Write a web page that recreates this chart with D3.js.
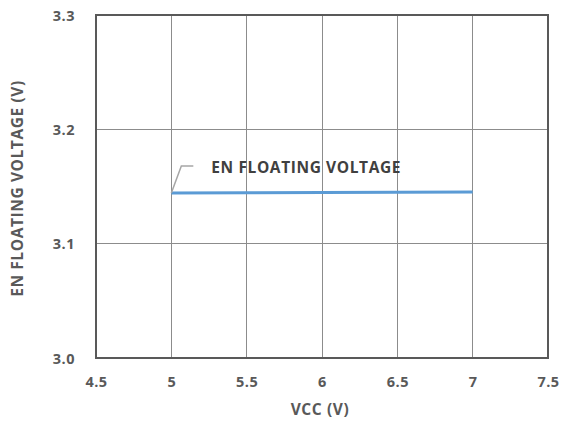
<!DOCTYPE html>
<html><head><meta charset="utf-8">
<script src="https://cdn.jsdelivr.net/npm/d3@7"></script>
<style>body{margin:0;background:#fff}svg{display:block}text{font-family:"Open Sans",sans-serif;font-weight:bold}</style>
</head><body>
<svg id="c" width="567" height="425"></svg>
<script>
const vcc = [5, 5.5, 6, 6.5, 7];
const enVoltage = [3.1443, 3.1445, 3.1448, 3.145, 3.1452];
const xTicks = [4.5, 5, 5.5, 6, 6.5, 7, 7.5];
const yTicks = [3.0, 3.1, 3.2, 3.3];
const seriesLabel = "EN FLOATING VOLTAGE";
const xTitle = "VCC (V)";
const yTitle = "EN FLOATING VOLTAGE (V)";

const svg = d3.select("#c");
const L = 96, R = 548, T = 15, B = 358;
const x = d3.scaleLinear().domain([4.5, 7.5]).range([L, R]);
const y = d3.scaleLinear().domain([3.0, 3.3]).range([B, T]);

// gridlines
svg.append("g").selectAll("line").data(xTicks.slice(1, -1)).join("line")
  .attr("x1", d => x(d)).attr("x2", d => x(d)).attr("y1", T).attr("y2", B)
  .attr("stroke", "#8c8c8c").attr("stroke-width", 1).attr("shape-rendering", "crispEdges");
svg.append("g").selectAll("line").data(yTicks.slice(1, -1)).join("line")
  .attr("y1", d => y(d)).attr("y2", d => y(d)).attr("x1", L).attr("x2", R)
  .attr("stroke", "#8c8c8c").attr("stroke-width", 1).attr("shape-rendering", "crispEdges");
svg.append("rect").attr("x", L).attr("y", T).attr("width", R - L).attr("height", B - T)
  .attr("fill", "none").attr("stroke", "#595959").attr("stroke-width", 1.5).attr("shape-rendering", "crispEdges");

// axes labels
const xAxis = d3.axisBottom(x).tickValues(xTicks).tickSize(0).tickPadding(0)
  .tickFormat(d => d3.format("~g")(d));
const gx = svg.append("g").attr("transform", `translate(0,${B})`).call(xAxis);
gx.select(".domain").remove();
gx.selectAll("text").attr("dy", null).attr("y", 29).attr("fill", "#595959")
  .attr("font-size", 14.5).attr("letter-spacing", 0.5);

const yAxis = d3.axisLeft(y).tickValues(yTicks).tickSize(0).tickPadding(0)
  .tickFormat(d3.format(".1f"));
const gy = svg.append("g").attr("transform", `translate(${L},0)`).call(yAxis);
gy.select(".domain").remove();
gy.selectAll("text").attr("x", -21).attr("dy", "0.35em").attr("fill", "#595959")
  .attr("font-size", 14.5).attr("letter-spacing", 0.5);

// series line
svg.append("path").datum(vcc.map((v, i) => [v, enVoltage[i]]))
  .attr("d", d3.line().x(d => x(d[0])).y(d => y(d[1])))
  .attr("fill", "none").attr("stroke", "#5b9bd5").attr("stroke-width", 3);

// leader and label
const p0 = [x(vcc[0]), y(enVoltage[0])];
svg.append("path")
  .attr("d", `M${p0[0]},${p0[1]} L${p0[0] + 10},${p0[1] - 27} L${p0[0] + 22},${p0[1] - 27}`)
  .attr("fill", "none").attr("stroke", "#a6a6a6").attr("stroke-width", 1.5);
svg.append("text").attr("x", p0[0] + 40).attr("y", p0[1] - 20.5)
  .attr("font-size", 15.5).attr("letter-spacing", 0.6).attr("fill", "#404040").text(seriesLabel);

// titles
svg.append("text").attr("x", 320).attr("y", 415).attr("text-anchor", "middle")
  .attr("font-size", 15.5).attr("letter-spacing", 0.6).attr("fill", "#595959").text(xTitle);
svg.append("text").attr("transform", `translate(23,${(T + B) / 2 + 2}) rotate(-90)`)
  .attr("text-anchor", "middle").attr("font-size", 15.5).attr("letter-spacing", 0.6)
  .attr("fill", "#595959").text(yTitle);
</script>
</body></html>
